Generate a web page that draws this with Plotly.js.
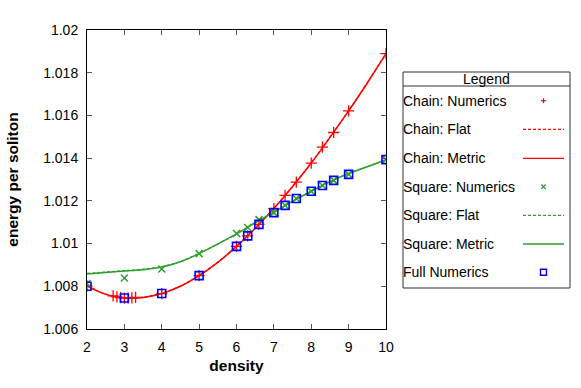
<!DOCTYPE html>
<html>
<head>
<meta charset="utf-8">
<script src="https://cdn.plot.ly/plotly-3.0.1.min.js"></script>
<style>html,body{margin:0;padding:0;background:#fff;}#chart{width:581px;height:388px;}</style>
</head>
<body>
<div id="chart"></div>
<script>
// ---- data ----
const chainNumX = [2, 2.7, 2.8, 2.9, 3.0, 3.1, 3.2, 3.3, 4, 5, 6, 6.3, 6.6, 7, 7.3, 7.6, 8, 8.3, 8.6, 9, 10];
const chainNumY = [1.00802, 1.00755, 1.00750, 1.00747, 1.00745, 1.00745, 1.00746, 1.00748, 1.00766, 1.00850, 1.00987, 1.01036, 1.01090, 1.01164, 1.01226, 1.01288, 1.01377, 1.01452, 1.01520, 1.01621, 1.01889];

const curveX = [2, 2.5, 3, 3.5, 4, 4.5, 5, 5.5, 6, 6.5, 7, 7.5, 8, 8.5, 9, 9.5, 10];
const chainFlatY   = [1.00803, 1.00763, 1.00746, 1.00749, 1.00767, 1.00801, 1.00851, 1.00913, 1.00988, 1.01073, 1.01165, 1.01268, 1.01378, 1.01498, 1.01622, 1.01753, 1.01890];
const chainMetricY = [1.00802, 1.00762, 1.00745, 1.00748, 1.00766, 1.00800, 1.00850, 1.00912, 1.00987, 1.01072, 1.01164, 1.01267, 1.01377, 1.01497, 1.01621, 1.01752, 1.01889];

const squareNumX = [2, 3, 4, 5, 6, 6.3, 6.6, 7, 7.3, 7.6, 8, 8.3, 8.6, 9, 10];
const squareNumY = [1.00813, 1.00839, 1.00881, 1.00953, 1.01047, 1.01075, 1.01112, 1.01145, 1.01179, 1.01211, 1.01245, 1.01272, 1.01296, 1.01324, 1.01393];
const squareFlatY   = [1.00860, 1.00867, 1.00873, 1.00880, 1.00892, 1.00916, 1.00954, 1.00998, 1.01045, 1.01098, 1.01147, 1.01198, 1.01245, 1.01290, 1.01328, 1.01360, 1.01393];
const squareMetricY = [1.00858, 1.00865, 1.00871, 1.00878, 1.00890, 1.00915, 1.00953, 1.00998, 1.01045, 1.01098, 1.01147, 1.01198, 1.01245, 1.01290, 1.01328, 1.01360, 1.01393];

const fullNumX = [2, 3, 4, 5, 6, 6.3, 6.6, 7, 7.3, 7.6, 8, 8.3, 8.6, 9, 10];
const fullNumY = [1.00800, 1.00745, 1.00766, 1.00850, 1.00987, 1.01036, 1.01090, 1.01145, 1.01179, 1.01211, 1.01245, 1.01272, 1.01296, 1.01324, 1.01393];

const xTickVals = [2, 3, 4, 5, 6, 7, 8, 9, 10];
const yTickVals = [1.006, 1.008, 1.010, 1.012, 1.014, 1.016, 1.018, 1.020];
const yTickText = ['1.006', '1.008', '1.01', '1.012', '1.014', '1.016', '1.018', '1.02'];

const legendNames = ['Chain: Numerics', 'Chain: Flat', 'Chain: Metric', 'Square: Numerics', 'Square: Flat', 'Square: Metric', 'Full Numerics'];

// ---- style ----
const RED = '#ff0000', GREEN = '#2f9e2f', BLUE = '#0000ff';
const FONT = 'Liberation Sans, Arial, sans-serif';
const W = 581, H = 388, ML = 87, MR = 195, MT = 30, MB = 59;
const PW = W - ML - MR, PH = H - MT - MB;
const px = p => (p - ML) / PW;
const py = p => (H - MB - p) / PH;

const traces = [
  {x: chainNumX, y: chainNumY, mode: 'markers', name: legendNames[0],
   marker: {symbol: 'cross-thin-open', size: 8, color: RED, line: {color: RED, width: 1.3}}},
  {x: curveX, y: chainFlatY, mode: 'lines', name: legendNames[1],
   line: {color: RED, width: 1.3, dash: '3px,2px', shape: 'spline'}},
  {x: curveX, y: chainMetricY, mode: 'lines', name: legendNames[2],
   line: {color: RED, width: 1.5, shape: 'spline'}},
  {x: squareNumX, y: squareNumY, mode: 'markers', name: legendNames[3],
   marker: {symbol: 'x-thin-open', size: 7, color: GREEN, line: {color: GREEN, width: 1.5}}},
  {x: curveX, y: squareFlatY, mode: 'lines', name: legendNames[4],
   line: {color: GREEN, width: 1.3, dash: '3px,2px', shape: 'spline'}},
  {x: curveX, y: squareMetricY, mode: 'lines', name: legendNames[5],
   line: {color: GREEN, width: 1.5, shape: 'spline'}},
  {x: fullNumX, y: fullNumY, mode: 'markers', name: legendNames[6],
   marker: {symbol: 'square-open', size: 8, color: BLUE, line: {color: BLUE, width: 1.6}}}
];

// ---- custom legend (gnuplot style: text left, sample right) ----
const box = {l: 403, r: 570, t: 72, b: 288, head: 86};
const rowY = [100.7, 129.3, 158.3, 186.7, 215.3, 244, 272.3];
const sx0 = 523, sx1 = 564, sxc = 543.5;
const shapes = [
  {type: 'rect', xref: 'paper', yref: 'paper', x0: px(box.l), x1: px(box.r), y0: py(box.b), y1: py(box.t),
   line: {color: '#333', width: 1}},
  {type: 'line', xref: 'paper', yref: 'paper', x0: px(box.l), x1: px(box.r), y0: py(box.head), y1: py(box.head),
   line: {color: '#333', width: 1}}
];
function hline(row, color, dash) {
  shapes.push({type: 'line', xref: 'paper', yref: 'paper', x0: px(sx0), x1: px(sx1), y0: py(rowY[row]), y1: py(rowY[row]),
    line: {color: color, width: 1.3, dash: dash || 'solid'}});
}
function seg(x0, y0, x1, y1, color, w) {
  shapes.push({type: 'line', xref: 'paper', yref: 'paper', x0: px(x0), x1: px(x1), y0: py(y0), y1: py(y1),
    line: {color: color, width: w}});
}
// Chain: Numerics (+)
seg(sxc - 2.5, rowY[0], sxc + 2.5, rowY[0], RED, 1.2);
seg(sxc, rowY[0] - 2.5, sxc, rowY[0] + 2.5, RED, 1.2);
hline(1, RED, '3px,2px');
hline(2, RED);
// Square: Numerics (x)
seg(sxc - 2.2, rowY[3] - 2.2, sxc + 2.2, rowY[3] + 2.2, GREEN, 1.3);
seg(sxc - 2.2, rowY[3] + 2.2, sxc + 2.2, rowY[3] - 2.2, GREEN, 1.3);
hline(4, GREEN, '3px,2px');
hline(5, GREEN);
// Full Numerics (square)
shapes.push({type: 'rect', xref: 'paper', yref: 'paper', x0: px(sxc - 3), x1: px(sxc + 3), y0: py(rowY[6] + 3), y1: py(rowY[6] - 3),
  line: {color: BLUE, width: 1.4}});

const annotations = [
  {xref: 'paper', yref: 'paper', x: px((box.l + box.r) / 2), y: py(79.3), text: 'Legend', showarrow: false,
   xanchor: 'center', yanchor: 'middle', font: {family: FONT, size: 14, color: '#000'}}
];
legendNames.forEach((n, i) => {
  annotations.push({xref: 'paper', yref: 'paper', x: px(box.l - 2.5), y: py(rowY[i]), text: n, showarrow: false,
    xanchor: 'left', yanchor: 'middle', font: {family: FONT, size: 14, color: '#000'}});
});

const axisCommon = {
  showgrid: false, zeroline: false, showline: true, linecolor: '#000', linewidth: 1,
  ticks: 'inside', ticklen: 5, tickwidth: 1, tickcolor: '#555', mirror: 'ticks',
  tickfont: {family: FONT, size: 14, color: '#000'}
};

const layout = {
  width: W, height: H,
  margin: {l: ML, r: MR, t: MT, b: MB, pad: 0},
  paper_bgcolor: '#fff', plot_bgcolor: '#fff',
  showlegend: false,
  xaxis: Object.assign({}, axisCommon, {
    range: [2, 10], tickvals: xTickVals, ticktext: xTickVals.map(String), ticklabelstandoff: 5,
    title: {text: 'density', font: {family: FONT, size: 15.5, color: '#000', weight: 'bold'}, standoff: 6}
  }),
  yaxis: Object.assign({}, axisCommon, {
    range: [1.006, 1.020], tickvals: yTickVals, ticktext: yTickText, ticklabelstandoff: 5,
    title: {text: 'energy per soliton', font: {family: FONT, size: 15.5, color: '#000', weight: 'bold'}, standoff: 20}
  }),
  shapes: shapes,
  annotations: annotations
};

Plotly.newPlot('chart', traces, layout, {displayModeBar: false, staticPlot: true});
</script>
</body>
</html>
